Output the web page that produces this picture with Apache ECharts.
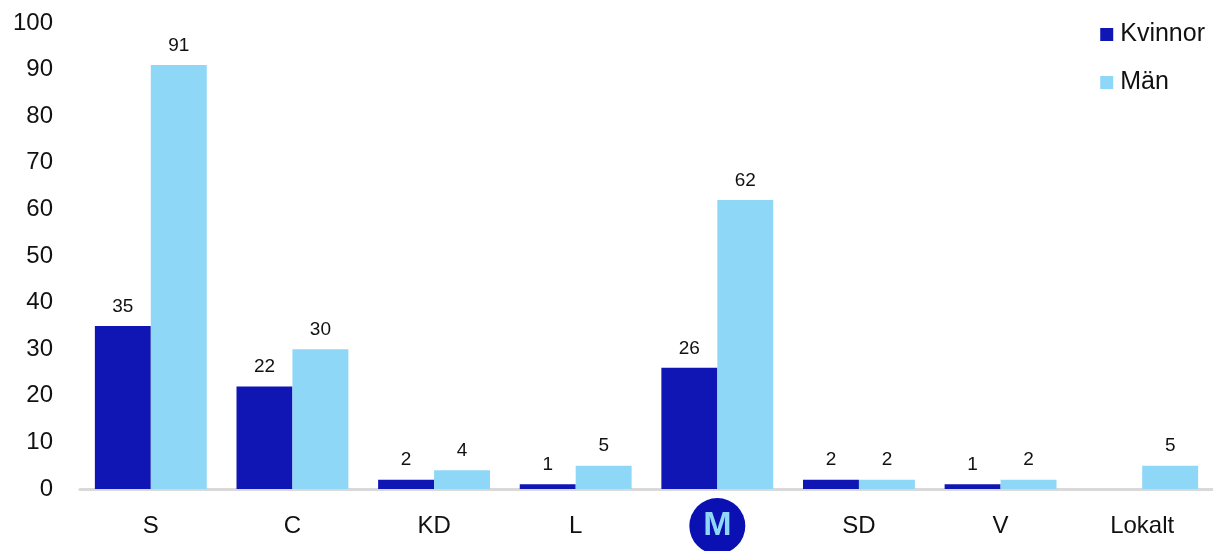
<!DOCTYPE html>
<html><head><meta charset="utf-8">
<script src="https://cdn.jsdelivr.net/npm/echarts@6/dist/echarts.min.js"></script>
<style>html,body{margin:0;padding:0;background:#fff}#c{width:1213px;height:551px}</style>
</head><body><div id="c"></div>
<script>
const categories = ['S','C','KD','L','M','SD','V','Lokalt'];
const kvinnor = [35,22,2,1,26,2,1,null];
const man = [91,30,4,5,62,2,2,5];
const yTicks = [0,10,20,30,40,50,60,70,80,90,100];

const chart = echarts.init(document.getElementById('c'));
const font = '"Liberation Sans", Arial, Helvetica, sans-serif';
const lbl = {show:true, position:'top', distance:10, fontSize:19, color:'#111', fontFamily:font};
chart.setOption({
  animation:false,
  textStyle:{fontFamily:font},
  grid:{left:80,right:0,top:23,bottom:62,outerBoundsMode:'none',containLabel:false},
  legend:{
    orient:'vertical', right:3, top:17, itemWidth:13, itemHeight:13, itemGap:23,
    icon:'rect',
    textStyle:{fontSize:25,color:'#111',fontFamily:font,padding:[0,0,0,2]},
    data:['Kvinnor','Män']
  },
  xAxis:{
    type:'category', data:categories,
    axisLine:{lineStyle:{color:'#d9d9d9',width:3}},
    axisTick:{show:false},
    axisLabel:{
      fontSize:24, color:'#111', margin:9, fontFamily:font,
      formatter:v => v==='M' ? '{logo|M}' : '{t|' + v + '}',
      rich:{
        t:{fontSize:24,color:'#111',height:56,lineHeight:56,verticalAlign:'middle',fontFamily:font},
        logo:{width:56,height:56,borderRadius:28,backgroundColor:'#0a10b2',
        color:'#8fd7f7',fontSize:34,fontWeight:'bold',align:'center',verticalAlign:'middle',lineHeight:56}}
    }
  },
  yAxis:{
    type:'value', min:0, max:100, interval:10,
    axisLine:{show:false}, axisTick:{show:false}, splitLine:{show:false},
    axisLabel:{fontSize:24,color:'#111',margin:27,fontFamily:font,
      customValues:yTicks}
  },
  series:[
    {name:'Kvinnor', type:'bar', data:kvinnor, barGap:'0%', barCategoryGap:'21%',
     itemStyle:{color:'#1016b3'}, label:lbl},
    {name:'Män', type:'bar', data:man, barGap:'0%', barCategoryGap:'21%',
     itemStyle:{color:'#8fd7f7'}, label:lbl}
  ]
});
</script></body></html>
